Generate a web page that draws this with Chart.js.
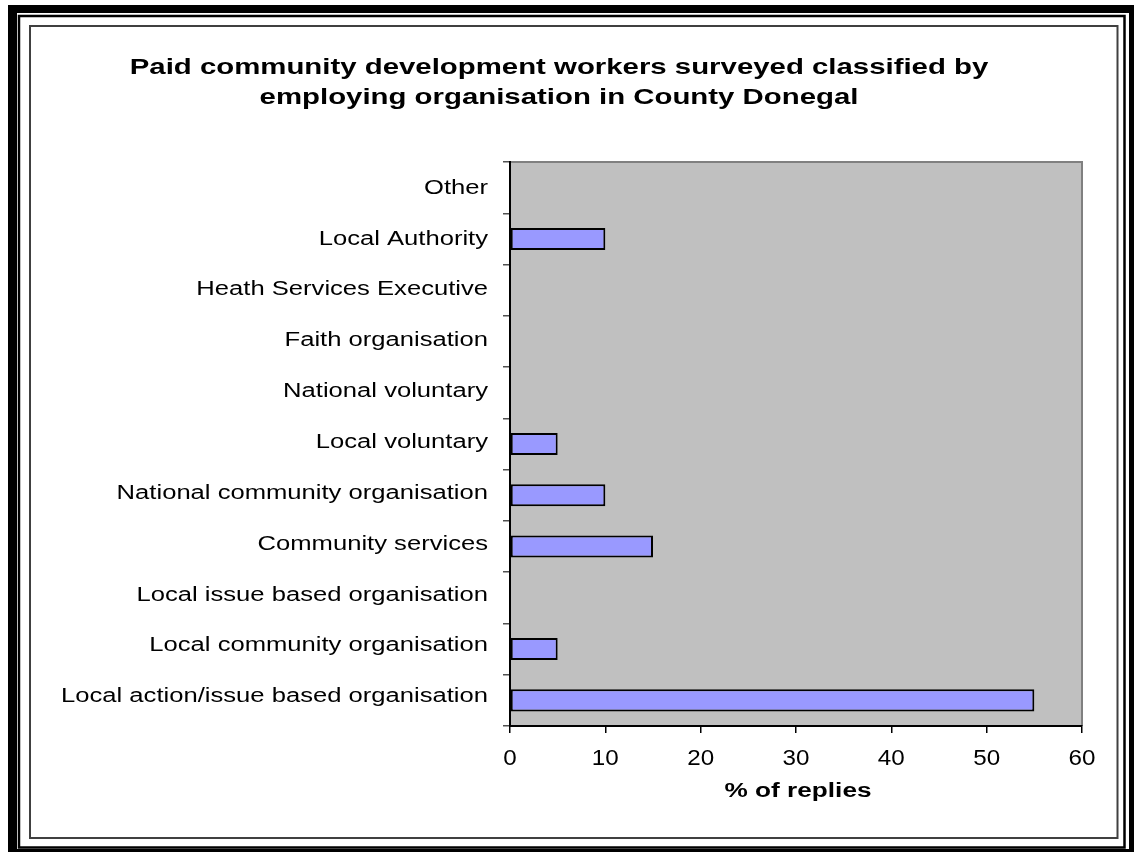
<!DOCTYPE html>
<html>
<head>
<meta charset="utf-8">
<script src="https://cdn.jsdelivr.net/npm/chart.js@4.4.1/dist/chart.umd.min.js"></script>
<style>
  html, body { margin: 0; padding: 0; background: #fff; }
  #wrap { position: relative; width: 1134px; height: 852px; }
</style>
</head>
<body>
<div id="wrap"><canvas id="chart" width="1134" height="852"></canvas></div>
<script>
// Categories listed top to bottom
const organisations = [
  'Other',
  'Local Authority',
  'Heath Services Executive',
  'Faith organisation',
  'National voluntary',
  'Local voluntary',
  'National community organisation',
  'Community services',
  'Local issue based organisation',
  'Local community organisation',
  'Local action/issue based organisation'
];
const replies = [0, 10, 0, 0, 0, 5, 10, 15, 0, 5, 55];
const xTicks = [0, 10, 20, 30, 40, 50, 60];

const titleLines = [
  'Paid community development workers surveyed classified by',
  'employing organisation in County Donegal'
];
const xTitle = '% of replies';

const FONT = 'Arial, "Liberation Sans", sans-serif';

// the text in this chart is set wide, so draw it with a horizontal stretch
function wideText(ctx, text, x, y, sx, align) {
  ctx.save();
  ctx.translate(x, y);
  ctx.scale(sx, 1);
  ctx.textAlign = align;
  ctx.textBaseline = 'alphabetic';
  ctx.fillText(text, 0, 0);
  ctx.restore();
}

// Frame round the whole page plus grey plot background
const framePlugin = {
  id: 'frame',
  beforeDraw(chart) {
    const ctx = chart.ctx;
    const W = chart.width, H = chart.height;
    ctx.save();
    ctx.fillStyle = '#fff';
    ctx.fillRect(0, 0, W, H);
    // thick outer black border
    ctx.fillStyle = '#000';
    ctx.fillRect(8, 5, W - 8, 8);      // top
    ctx.fillRect(8, 5, 9, H - 5);      // left
    ctx.fillRect(W - 5, 5, 5, H - 5);  // right
    ctx.fillRect(8, H - 3, W - 8, 3);  // bottom
    // thin inner black line
    ctx.strokeStyle = '#000';
    ctx.lineWidth = 2.5;
    ctx.strokeRect(19, 16, 1105.5, 831.5);
    // grey chart border
    ctx.strokeStyle = '#404040';
    ctx.lineWidth = 2;
    ctx.strokeRect(30, 26, 1087.5, 812);
    // plot area
    const a = chart.chartArea;
    ctx.fillStyle = '#c0c0c0';
    ctx.fillRect(a.left, a.top, a.right - a.left, a.bottom - a.top);
    ctx.strokeStyle = '#808080';
    ctx.lineWidth = 2;
    ctx.beginPath();
    ctx.moveTo(a.left, a.top);
    ctx.lineTo(a.right, a.top);
    ctx.lineTo(a.right, a.bottom);
    ctx.stroke();
    ctx.restore();
  }
};

// Title, category names, tick numbers and axis title
const labelPlugin = {
  id: 'labels',
  afterDraw(chart) {
    const ctx = chart.ctx;
    const xs = chart.scales.x, ys = chart.scales.y;
    ctx.save();
    ctx.fillStyle = '#000';

    ctx.font = 'bold 22px ' + FONT;
    wideText(ctx, titleLines[0], 559, 74, 1.335, 'center');
    wideText(ctx, titleLines[1], 559, 104, 1.335, 'center');

    ctx.font = '20px ' + FONT;
    organisations.forEach((name, i) => {
      const y = ys.getPixelForValue(i);
      wideText(ctx, name, 488, y + 6 - i * 0.4, 1.28, 'right');
    });

    ctx.font = '22px ' + FONT;
    xTicks.forEach(v => {
      wideText(ctx, String(v), xs.getPixelForValue(v), 765, 1.1, 'center');
    });

    ctx.font = 'bold 20px ' + FONT;
    wideText(ctx, xTitle, (chart.chartArea.left + chart.chartArea.right) / 2 + 2, 797, 1.31, 'center');
    ctx.restore();
  }
};

const ctx = document.getElementById('chart').getContext('2d');
new Chart(ctx, {
  type: 'bar',
  data: {
    labels: organisations,
    datasets: [{
      data: replies,
      backgroundColor: '#9999ff',
      borderColor: '#000',
      borderWidth: 2,
      borderSkipped: false,
      categoryPercentage: 0.43,
      barPercentage: 1.0
    }]
  },
  options: {
    indexAxis: 'y',
    responsive: false,
    animation: false,
    layout: { padding: { top: 162, left: 30, right: 52, bottom: 30 } },
    plugins: {
      legend: { display: false },
      tooltip: { enabled: false },
      title: { display: false }
    },
    scales: {
      x: {
        min: 0,
        max: 60,
        afterBuildTicks(axis) {
          axis.ticks = xTicks.map(v => ({ value: v }));
        },
        grid: { drawOnChartArea: false, drawTicks: true, tickLength: 7, color: '#000', lineWidth: 1.5 },
        border: { color: '#000', width: 2 },
        ticks: { color: 'rgba(0,0,0,0)', font: { family: FONT, size: 20 } },
        afterFit(axis) { axis.height = 96; }
      },
      y: {
        grid: { drawOnChartArea: false, drawTicks: true, tickLength: 7, color: '#505050', lineWidth: 1.5, offset: true },
        border: { color: '#000', width: 2 },
        ticks: { color: 'rgba(0,0,0,0)', autoSkip: false, font: { family: FONT, size: 20 } },
        afterFit(axis) { axis.width = 480; }
      }
    }
  },
  plugins: [framePlugin, labelPlugin]
});
</script>
</body>
</html>
